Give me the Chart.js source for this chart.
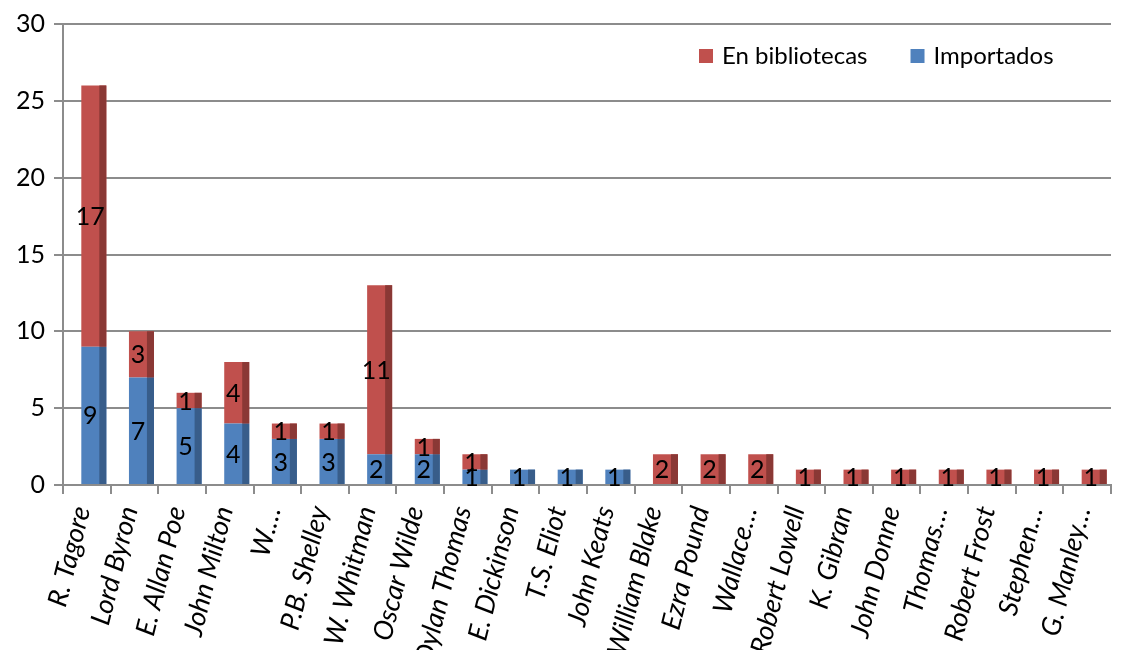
<!DOCTYPE html>
<html>
<head>
<meta charset="utf-8">
<script src="https://cdn.jsdelivr.net/npm/chart.js@4.4.0/dist/chart.umd.min.js"></script>
<style>
  html, body { margin: 0; padding: 0; background: #fff; }
  canvas { display: block; }
</style>
</head>
<body>
<canvas id="poetas" width="1121" height="650"></canvas>
<script>
const autores = ['R. Tagore', 'Lord Byron', 'E. Allan Poe', 'John Milton', 'W.\u2026', 'P.B. Shelley',
  'W. Whitman', 'Oscar Wilde', 'Dylan Thomas', 'E. Dickinson', 'T.S. Eliot', 'John Keats',
  'William Blake', 'Ezra Pound', 'Wallace\u2026', 'Robert Lowell', 'K. Gibran', 'John Donne',
  'Thomas\u2026', 'Robert Frost', 'Stephen\u2026', 'G. Manley\u2026'];
const importados    = [9, 7, 5, 4, 3, 3, 2, 2, 1, 1, 1, 1, 0, 0, 0, 0, 0, 0, 0, 0, 0, 0];
const enBibliotecas = [17, 3, 1, 4, 1, 1, 11, 1, 1, 0, 0, 0, 2, 2, 2, 1, 1, 1, 1, 1, 1, 1];
const escalaY = [0, 5, 10, 15, 20, 25, 30];

const gris = '#8C8C8C';
const fuente = 'Lato, "Liberation Sans", sans-serif';
const profundidad = 7;   // cara lateral oscura de cada columna
const desplazamiento = 7;

// columnas con cara lateral + etiquetas de valor centradas en la cara frontal
const columnas3d = {
  id: 'columnas3d',
  beforeDatasetsDraw(chart) {
    chart.ctx.save();
    chart.ctx.translate(desplazamiento, 0);
  },
  afterDatasetsDraw(chart) {
    const ctx = chart.ctx;
    chart.data.datasets.forEach((ds, i) => {
      chart.getDatasetMeta(i).data.forEach((bar, j) => {
        if (!ds.data[j]) return;
        const derecha = bar.x + bar.width / 2;
        ctx.fillStyle = ds.lateral;
        ctx.fillRect(derecha - profundidad, bar.y, profundidad, bar.base - bar.y);
      });
    });
    ctx.fillStyle = '#000';
    ctx.font = '25px ' + fuente;
    ctx.textAlign = 'center';
    ctx.textBaseline = 'middle';
    chart.data.datasets.forEach((ds, i) => {
      chart.getDatasetMeta(i).data.forEach((bar, j) => {
        if (!ds.data[j]) return;
        ctx.fillText(String(ds.data[j]), bar.x - profundidad / 2, (bar.y + bar.base) / 2 + 1);
      });
    });
    ctx.restore();
  },
  afterDraw(chart) {
    // leyenda dentro del área del gráfico
    const ctx = chart.ctx;
    ctx.save();
    ctx.font = '24px ' + fuente;
    ctx.textBaseline = 'middle';
    ctx.textAlign = 'left';
    let x = 699;
    const y = 56;
    [chart.data.datasets[1], chart.data.datasets[0]].forEach(ds => {
      ctx.fillStyle = ds.backgroundColor;
      ctx.fillRect(x, y - 7, 14, 14);
      ctx.fillStyle = '#000';
      ctx.fillText(ds.label, x + 23, y);
      x += 23 + ctx.measureText(ds.label).width + 43;
    });
    ctx.restore();
  }
};

new Chart(document.getElementById('poetas'), {
  type: 'bar',
  data: {
    labels: autores,
    datasets: [{
      label: 'Importados',
      data: importados,
      backgroundColor: '#4F81BD',
      lateral: '#385D8A'
    }, {
      label: 'En bibliotecas',
      data: enBibliotecas,
      backgroundColor: '#C0504D',
      lateral: '#8A3835'
    }]
  },
  options: {
    responsive: false,
    animation: false,
    devicePixelRatio: 1,
    layout: { padding: { top: 22, right: 10, left: 0, bottom: 0 } },
    categoryPercentage: 1,
    barPercentage: 0.525,
    plugins: {
      legend: { display: false },
      tooltip: { enabled: false }
    },
    scales: {
      x: {
        stacked: true,
        grid: { drawOnChartArea: false, color: gris, lineWidth: 2, tickLength: 9, offset: true },
        border: { color: gris, width: 2 },
        ticks: {
          autoSkip: false, minRotation: 76, maxRotation: 76, padding: 9, labelOffset: -5, color: '#000',
          font: { family: fuente, size: 27, style: 'italic' }
        },
        afterFit(scale) {
          scale.height = 165;
          scale.paddingLeft = 0;
          scale.paddingRight = 0;
        }
      },
      y: {
        stacked: true,
        min: escalaY[0],
        max: escalaY[escalaY.length - 1],
        afterBuildTicks(scale) { scale.ticks = escalaY.map(v => ({ value: v })); },
        grid: { color: gris, lineWidth: 2, tickLength: 9 },
        border: { color: gris, width: 2 },
        ticks: { padding: 9, color: '#000', font: { family: fuente, size: 25 } },
        afterFit(scale) { scale.width = 63; }
      }
    }
  },
  plugins: [columnas3d]
});
</script>
</body>
</html>
